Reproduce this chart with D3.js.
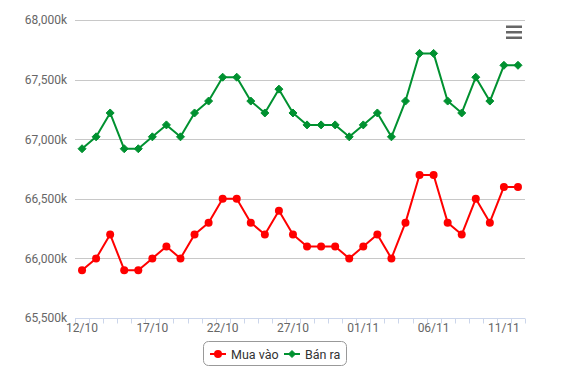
<!DOCTYPE html>
<html>
<head>
<meta charset="utf-8">
<script src="https://cdn.jsdelivr.net/npm/d3@7"></script>
<style>
  html, body { margin: 0; padding: 0; background: #fff; }
  #chart { width: 562px; height: 384px; }
  svg { font-family: Roboto, "Noto Sans", sans-serif; display: block; }
  .grid-line { stroke: #c8c8c8; stroke-width: 1; }
  .axis-line, .axis-tick { stroke: #ccd6eb; stroke-width: 1; }
  .axis-label { fill: #666; font-size: 12px; }
  .legend-text { fill: #333; font-size: 12.5px; }
</style>
</head>
<body>
<div id="chart"></div>
<script>
const dates = [
  "12/10", "13/10", "14/10", "15/10", "16/10", "17/10", "18/10", "19/10",
  "20/10", "21/10", "22/10", "23/10", "24/10", "25/10", "26/10", "27/10",
  "28/10", "29/10", "30/10", "31/10", "01/11", "02/11", "03/11", "04/11",
  "05/11", "06/11", "07/11", "08/11", "09/11", "10/11", "11/11", "12/11",
];

// Mua vào
const buyValues = [
  65900, 66000, 66200, 65900, 65900, 66000, 66100, 66000,
  66200, 66300, 66500, 66500, 66300, 66200, 66400, 66200,
  66100, 66100, 66100, 66000, 66100, 66200, 66000, 66300,
  66700, 66700, 66300, 66200, 66500, 66300, 66600, 66600,
];

// Bán ra
const sellValues = [
  66920, 67020, 67220, 66920, 66920, 67020, 67120, 67020,
  67220, 67320, 67520, 67520, 67320, 67220, 67420, 67220,
  67120, 67120, 67120, 67020, 67120, 67220, 67020, 67320,
  67720, 67720, 67320, 67220, 67520, 67320, 67620, 67620,
];

const yTicks = [65500, 66000, 66500, 67000, 67500, 68000];
const labelEvery = 5;

const series = [
  { name: "Mua vào", values: buyValues, color: "#ff0000", symbol: "circle" },
  { name: "Bán ra", values: sellValues, color: "#009130", symbol: "diamond" },
];

const width = 562;
const height = 384;
const margin = { top: 20, right: 37, bottom: 66, left: 75 };

const x = d3
  .scaleBand()
  .domain(dates)
  .range([margin.left, width - margin.right])
  .padding(0);

const y = d3
  .scaleLinear()
  .domain(d3.extent(yTicks))
  .range([height - margin.bottom, margin.top]);

const cx = (d) => x(d) + x.bandwidth() / 2;
const fmt = (v) => d3.format(",")(v) + "k";

const line = d3
  .line()
  .x((d) => cx(d.date))
  .y((d) => y(d.value));

// highcharts-like diamond: radius 4
const diamond = (r) => `M0,${-r}L${r},0L0,${r}L${-r},0Z`;

const svg = d3
  .select("#chart")
  .append("svg")
  .attr("width", width)
  .attr("height", height)
  .attr("viewBox", [0, 0, width, height]);

// grid
svg
  .append("g")
  .selectAll(".grid-line")
  .data(yTicks.slice(1))
  .join("line")
  .attr("class", "grid-line")
  .attr("x1", margin.left)
  .attr("x2", width - margin.right)
  .attr("y1", (d) => Math.round(y(d)) + 0.5)
  .attr("y2", (d) => Math.round(y(d)) + 0.5);

// y labels
svg
  .append("g")
  .selectAll(".axis-label")
  .data(yTicks)
  .join("text")
  .attr("class", "axis-label")
  .attr("x", 67)
  .attr("y", (d) => y(d))
  .attr("dy", "0.36em")
  .attr("text-anchor", "end")
  .text(fmt);

// x axis
const xAxis = svg.append("g");
const y0 = Math.round(y.range()[0]) + 0.5;

xAxis
  .append("line")
  .attr("class", "axis-line")
  .attr("x1", margin.left)
  .attr("x2", width - margin.right)
  .attr("y1", y0)
  .attr("y2", y0);

xAxis
  .selectAll(".axis-tick")
  .data([...dates.map((d) => x(d)), x.range()[1]])
  .join("line")
  .attr("class", "axis-tick")
  .attr("x1", (d) => Math.round(d) + 0.5)
  .attr("x2", (d) => Math.round(d) + 0.5)
  .attr("y1", y0)
  .attr("y2", y0 + 5);

xAxis
  .selectAll(".axis-label")
  .data(dates.filter((d, i) => i % labelEvery === 0))
  .join("text")
  .attr("class", "axis-label")
  .attr("x", cx)
  .attr("y", y0 + 13)
  .attr("text-anchor", "middle")
  .text((d) => d);

// series
const gSeries = svg
  .append("g")
  .selectAll(".series")
  .data(series)
  .join("g")
  .attr("class", "series");

gSeries
  .append("path")
  .attr("fill", "none")
  .attr("stroke", (s) => s.color)
  .attr("stroke-width", 2)
  .attr("stroke-linejoin", "round")
  .attr("d", (s) => line(s.values.map((v, i) => ({ date: dates[i], value: v }))));

gSeries.each(function (s) {
  const pts = s.values.map((v, i) => ({ date: dates[i], value: v }));
  const g = d3.select(this);
  if (s.symbol === "circle") {
    g.selectAll("circle")
      .data(pts)
      .join("circle")
      .attr("cx", (d) => cx(d.date))
      .attr("cy", (d) => y(d.value))
      .attr("r", 4)
      .attr("fill", s.color);
  } else {
    g.selectAll(".marker")
      .data(pts)
      .join("path")
      .attr("class", "marker")
      .attr("transform", (d) => `translate(${cx(d.date)},${y(d.value)})`)
      .attr("d", diamond(4))
      .attr("fill", s.color)
      .attr("stroke", s.color)
      .attr("stroke-width", 1);
  }
});

// legend
const legend = svg.append("g");

legend
  .append("rect")
  .attr("x", 203.5)
  .attr("y", 341.5)
  .attr("width", 143)
  .attr("height", 24)
  .attr("rx", 5)
  .attr("fill", "#fff")
  .attr("stroke", "#999");

const legendX = [210, 284];
const items = legend
  .selectAll(".legend-item")
  .data(series)
  .join("g")
  .attr("class", "legend-item")
  .attr("transform", (s, i) => `translate(${legendX[i]},354)`);

items
  .append("line")
  .attr("x1", 0)
  .attr("x2", 16)
  .attr("stroke", (s) => s.color)
  .attr("stroke-width", 2);

items.each(function (s) {
  const g = d3.select(this);
  if (s.symbol === "circle") {
    g.append("circle").attr("cx", 8).attr("r", 4).attr("fill", s.color);
  } else {
    g.append("path")
      .attr("transform", "translate(8,0)")
      .attr("d", diamond(3.5))
      .attr("fill", s.color)
      .attr("stroke", s.color);
  }
});

items
  .append("text")
  .attr("class", "legend-text")
  .attr("x", 21)
  .attr("dy", "0.36em")
  .text((s) => s.name);

// menu icon
svg
  .append("g")
  .selectAll("rect")
  .data([0, 1, 2])
  .join("rect")
  .attr("x", 506)
  .attr("y", (d) => 25.5 + d * 5.5)
  .attr("width", 16)
  .attr("height", 2.5)
  .attr("fill", "#666");
</script>
</body>
</html>
